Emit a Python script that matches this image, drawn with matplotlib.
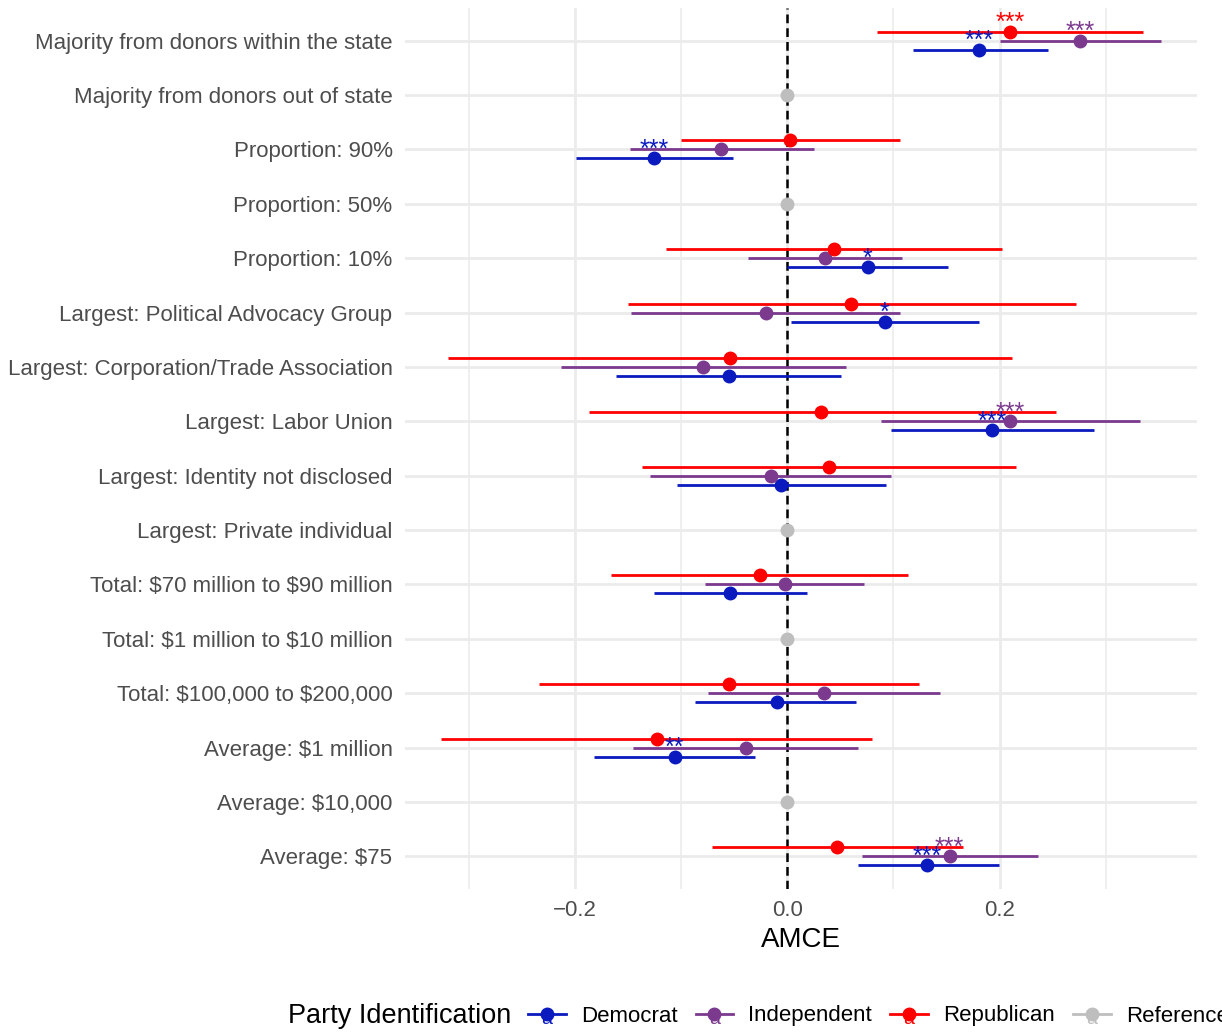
import numpy as np
import matplotlib.pyplot as plt
from matplotlib.legend_handler import HandlerLine2D
from matplotlib.lines import Line2D
from matplotlib.text import Text

plt.rcParams['font.family'] = ['Liberation Sans', 'DejaVu Sans']
plt.rcParams['text.parse_math'] = False

nan = np.nan

# Niveles de los atributos (de arriba hacia abajo)
labels = ["Majority from donors within the state", "Majority from donors out of state",
          "Proportion: 90%", "Proportion: 50%", "Proportion: 10%",
          "Largest: Political Advocacy Group", "Largest: Corporation/Trade Association",
          "Largest: Labor Union", "Largest: Identity not disclosed", "Largest: Private individual",
          "Total: $70 million to $90 million", "Total: $1 million to $10 million",
          "Total: $100,000 to $200,000", "Average: $1 million", "Average: $10,000", "Average: $75"]

# filas de referencia (AMCE = 0)
ref_rows = [1, 3, 9, 11, 14]

dem_est = [0.181, nan, -0.125, nan, 0.076, 0.092, -0.055, 0.193, -0.006, nan, -0.054, nan, -0.010, -0.106, nan, 0.132]
dem_lo = [0.118, nan, -0.199, nan, 0.000, 0.004, -0.161, 0.098, -0.104, nan, -0.125, nan, -0.087, -0.182, nan, 0.067]
dem_hi = [0.246, nan, -0.051, nan, 0.151, 0.181, 0.051, 0.289, 0.093, nan, 0.019, nan, 0.065, -0.030, nan, 0.199]
dem_sig = ["***", "", "***", "", "*", "*", "", "***", "", "", "", "", "", "**", "", "***"]

ind_est = [0.276, nan, -0.062, nan, 0.036, -0.020, -0.079, 0.210, -0.015, nan, -0.002, nan, 0.035, -0.039, nan, 0.153]
ind_lo = [0.200, nan, -0.148, nan, -0.037, -0.147, -0.213, 0.088, -0.129, nan, -0.077, nan, -0.075, -0.145, nan, 0.070]
ind_hi = [0.352, nan, 0.025, nan, 0.108, 0.106, 0.055, 0.332, 0.098, nan, 0.072, nan, 0.144, 0.067, nan, 0.236]
ind_sig = ["***", "", "", "", "", "", "", "***", "", "", "", "", "", "", "", "***"]

rep_est = [0.210, nan, 0.003, nan, 0.044, 0.060, -0.054, 0.032, 0.039, nan, -0.026, nan, -0.055, -0.123, nan, 0.047]
rep_lo = [0.085, nan, -0.100, nan, -0.114, -0.150, -0.319, -0.187, -0.137, nan, -0.166, nan, -0.234, -0.326, nan, -0.071]
rep_hi = [0.335, nan, 0.106, nan, 0.202, 0.272, 0.212, 0.253, 0.215, nan, 0.114, nan, 0.124, 0.080, nan, 0.166]
rep_sig = ["***", "", "", "", "", "", "", "", "", "", "", "", "", "", "", ""]

parties = ["Democrat", "Independent", "Republican", "Reference"]
colores = {"Democrat": "#0A1ABF", "Independent": "#7B3A8E", "Republican": "#FF0000", "Reference": "#BEBEBE"}

series = {
    "Democrat": (dem_est, dem_lo, dem_hi, dem_sig, -0.166),
    "Independent": (ind_est, ind_lo, ind_hi, ind_sig, 0.0),
    "Republican": (rep_est, rep_lo, rep_hi, rep_sig, 0.166),
}

n = len(labels)
ypos = np.arange(n)[::-1]

fig = plt.figure(figsize=(12.22, 10.32), dpi=100)
ax = fig.add_axes([405 / 1222, 1 - 889 / 1032, (1197 - 405) / 1222, (889 - 8) / 1032])

# rejilla tipo theme_minimal
for xv in [-0.3, -0.1, 0.1, 0.3]:
    ax.axvline(xv, color='#EBEBEB', lw=1.1, zorder=0)
for xv in [-0.2, 0.0, 0.2]:
    ax.axvline(xv, color='#EBEBEB', lw=2.0, zorder=0)
for yv in ypos:
    ax.axhline(yv, color='#EBEBEB', lw=2.0, zorder=0)

ax.axvline(0, color='black', lw=1.8, ls=(0, (3.5, 2)), zorder=1)

for p in ["Democrat", "Independent", "Republican"]:
    est, lo, hi, sig, off = series[p]
    est = np.array(est)
    yy = ypos + off
    ok = ~np.isnan(est)
    ax.hlines(yy[ok], np.array(lo)[ok], np.array(hi)[ok], color=colores[p], lw=2.0, zorder=2)
    ax.plot(est[ok], yy[ok], 'o', color=colores[p], ms=9, zorder=3)
    for i in range(n):
        if sig[i]:
            ax.text(est[i], yy[i] + 0.03, sig[i], ha='center', va='baseline',
                    color=colores[p], fontsize=18, zorder=4)

ax.plot(np.zeros(len(ref_rows)), ypos[ref_rows], 'o', color=colores["Reference"], ms=9, zorder=3)

allv = np.concatenate([dem_lo, dem_hi, ind_lo, ind_hi, rep_lo, rep_hi])
vmin, vmax = np.nanmin(allv), np.nanmax(allv)
pad = 0.05 * (vmax - vmin)
ax.set_xlim(vmin - pad, vmax + pad)
ax.set_ylim(-0.6, n - 1 + 0.6)

ax.set_xticks([-0.2, 0.0, 0.2])
ax.set_xticklabels(["\u22120.2", "0.0", "0.2"])
ax.set_yticks(ypos)
ax.set_yticklabels(labels)
ax.tick_params(axis='both', length=0, labelsize=16, labelcolor='#4D4D4D')
ax.tick_params(axis='x', pad=8)
ax.tick_params(axis='y', pad=9)
for s in ax.spines.values():
    s.set_visible(False)
ax.set_xlabel("AMCE", fontsize=20, labelpad=4)


class HandlerKey(HandlerLine2D):
    def create_artists(self, legend, orig_handle, xdescent, ydescent, width, height, fontsize, trans):
        arts = super().create_artists(legend, orig_handle, xdescent, ydescent, width, height, fontsize, trans)
        a = Text(width / 2 - xdescent, height / 2 - ydescent - 4, 'a', color=orig_handle.get_color(),
                 fontsize=14, ha='center', va='center', transform=trans)
        return [a] + list(arts)


handles = [Line2D([], [], color=colores[p], lw=2.0, marker='o', ms=9) for p in parties]
fig.text(288 / 1222, 1 - 1016 / 1032, "Party Identification", fontsize=19.5, va='center', ha='left')
leg = fig.legend(handles, parties, loc='center left', bbox_to_anchor=(528 / 1222, 1 - 1016 / 1032),
                 ncol=4, frameon=False, fontsize=16, numpoints=1, handlelength=1.7,
                 handletextpad=0.68, columnspacing=0.81, borderaxespad=0, borderpad=0,
                 handler_map={Line2D: HandlerKey()})

fig.savefig("out.png", dpi=100)
